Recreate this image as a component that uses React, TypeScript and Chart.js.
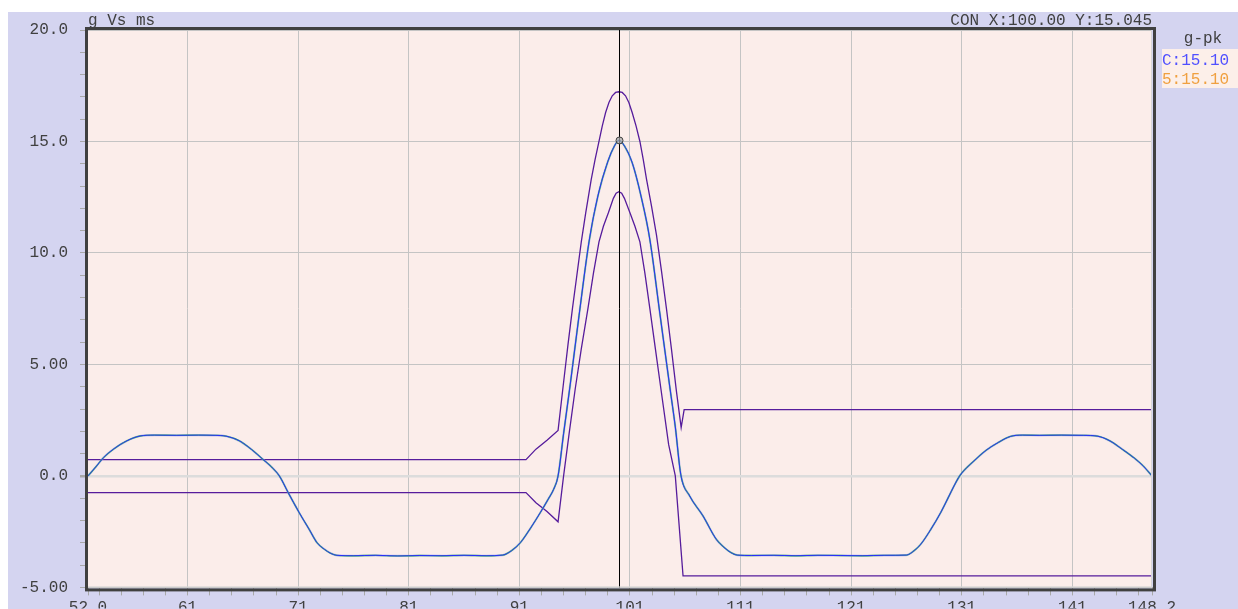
import React, { useEffect, useRef } from "react";
import { Chart, registerables } from "chart.js";

Chart.register(...registerables);

// Main measured pulse (g vs ms)
const mainX = [
  52.0, 52.7, 53.4, 54.3, 55.5, 56.7, 58.0, 60.0, 62.0, 63.5, 64.5, 65.7, 66.8, 67.8, 68.6, 69.3,
  70.1, 71.1, 72.0, 72.7, 73.4, 73.9, 74.5, 76.0, 78.0, 80.0, 82.0, 84.0, 86.0, 88.0, 89.5, 90.3,
  91.1, 92.0, 92.9, 93.6, 94.1, 94.5, 95.0, 95.6, 96.4, 97.3, 98.1, 99.0, 99.6, 100.0, 100.5, 101.2,
  102.0, 102.8, 103.7, 104.6, 105.1, 105.6, 106.4, 107.6, 108.8, 109.5, 110.1, 110.7, 112.0, 114.0,
  116.0, 118.0, 120.0, 122.0, 124.0, 126.0, 126.7, 127.3, 128.2, 129.1, 129.8, 130.3, 130.85, 132.1,
  133.2, 134.3, 135.4, 136.5, 138.0, 140.0, 142.0, 143.3, 144.4, 145.5, 146.6, 147.4, 148.2,
];
const mainY = [
  0.0, 0.4, 0.82, 1.2, 1.57, 1.79, 1.83, 1.82, 1.83, 1.82, 1.78, 1.57, 1.18, 0.75, 0.4, 0.0,
  -0.75, -1.65, -2.4, -2.99, -3.3, -3.46, -3.56, -3.58, -3.56, -3.59, -3.57, -3.58, -3.56, -3.58, -3.55, -3.35,
  -2.99, -2.35, -1.64, -1.05, -0.6, 0.0, 1.9, 4.1, 7.2, 10.5, 12.55, 14.1, 14.8, 15.05, 14.8, 14.05,
  12.55, 10.6, 7.3, 4.0, 2.2, 0.05, -0.9, -1.79, -2.84, -3.2, -3.43, -3.55, -3.57, -3.56,
  -3.58, -3.56, -3.57, -3.58, -3.56, -3.55, -3.35, -3.06, -2.4, -1.64, -0.95, -0.45, 0.03, 0.67,
  1.15, 1.5, 1.77, 1.83, 1.82, 1.83, 1.82, 1.78, 1.57, 1.2, 0.8, 0.45, 0.0,
];

// Upper tolerance envelope
const upperX = [
  52.0, 91.6, 92.5, 93.5, 94.5, 95.0, 95.4, 95.8, 96.2, 96.6, 97.0, 97.5, 97.85, 98.2, 98.5, 98.8,
  99.1, 99.4, 99.7, 100.0, 100.3, 100.6, 100.9, 101.2, 101.55, 101.9, 102.2, 102.5, 102.95, 103.4,
  103.85, 104.3, 104.75, 105.2, 105.63, 105.9, 148.2,
];
const upperY = [
  0.73, 0.73, 1.2, 1.6, 2.04, 4.2, 5.9, 7.5, 9.0, 10.5, 11.8, 13.3, 14.2, 15.0, 15.7, 16.3,
  16.75, 17.05, 17.2, 17.23, 17.2, 17.05, 16.75, 16.3, 15.7, 15.0, 14.2, 13.3, 12.1, 10.8,
  9.2, 7.5, 5.7, 3.8, 2.17, 2.97, 2.97,
];

// Lower tolerance envelope
const lowerX = [
  52.0, 91.6, 92.5, 93.5, 94.5, 95.0, 95.5, 96.05, 96.6, 97.2, 97.7, 98.2, 98.6, 99.05, 99.5, 99.75,
  100.0, 100.25, 100.5, 101.0, 101.45, 101.9, 102.35, 102.8, 103.3, 103.8, 104.5, 105.1, 105.8, 148.2,
];
const lowerY = [
  -0.75, -0.75, -1.2, -1.6, -2.06, 0.0, 1.9, 3.9, 5.7, 7.5, 9.1, 10.5, 11.2, 11.8, 12.45, 12.68,
  12.75, 12.68, 12.45, 11.8, 11.2, 10.5, 9.1, 7.5, 5.7, 3.9, 1.4, 0.0, -4.48, -4.48,
];

// Axes
const X_MIN = 52.0;
const X_MAX = 148.2;
const xMajorTicks = [61, 71, 81, 91, 101, 111, 121, 131, 141];
const xEndLabels: Record<string, string> = { "52": "52.0", "148.2": "148.2" };
const Y_MIN = -5;
const Y_MAX = 20;
const yTickLabels: Record<string, string> = {
  "20": "20.0",
  "15": "15.0",
  "10": "10.0",
  "5": "5.00",
  "0": "0.0",
  "-5": "-5.00",
};

const cursorX = 100.0;
const cursorY = 15.045;
const titleText = "g Vs ms";
const cursorText = "CON X:100.00 Y:15.045";
const legendTitle = "g-pk";
const legendItems = ["C:15.10", "5:15.10"];
const legendColors = ["#5050ff", "#f0a040"];

const FONT_FAMILY = '"Liberation Mono", "Courier New", monospace';
const FONT = "16px " + FONT_FAMILY;
const TEXT_COLOR = "#404040";
const PANEL = "#d4d4f0";
const PLOT_BG = "#fbedea";

const toPts = (xs: number[], ys: number[]) => xs.map((x, i) => ({ x, y: ys[i] }));

const framePlugin = {
  id: "frame",
  beforeDraw(chart: any) {
    const { ctx, width, height, chartArea } = chart;
    ctx.save();
    ctx.fillStyle = "#ffffff";
    ctx.fillRect(0, 0, width, height);
    ctx.fillStyle = PANEL;
    ctx.fillRect(0, 4, width, height - 4);
    ctx.fillStyle = PLOT_BG;
    ctx.fillRect(chartArea.left, chartArea.top, chartArea.right - chartArea.left, chartArea.bottom - chartArea.top);
    ctx.restore();
  },
  afterDatasetsDraw(chart: any) {
    const { ctx, chartArea, scales } = chart;
    const xs = scales.x;
    const ys = scales.y;
    ctx.save();
    const cx = Math.round(xs.getPixelForValue(cursorX)) + 0.5;
    ctx.strokeStyle = "#000000";
    ctx.lineWidth = 1;
    ctx.beginPath();
    ctx.moveTo(cx, chartArea.top);
    ctx.lineTo(cx, chartArea.bottom);
    ctx.stroke();
    const cy = ys.getPixelForValue(cursorY);
    ctx.beginPath();
    ctx.arc(cx, cy, 3.5, 0, Math.PI * 2);
    ctx.fillStyle = "rgba(170,170,170,0.7)";
    ctx.fill();
    ctx.strokeStyle = "#404040";
    ctx.lineWidth = 1;
    ctx.stroke();
    ctx.restore();
  },
  afterDraw(chart: any) {
    const { ctx, chartArea } = chart;
    ctx.save();
    ctx.strokeStyle = "#d6d6d6";
    ctx.lineWidth = 1;
    ctx.beginPath();
    ctx.moveTo(chartArea.left, chartArea.bottom - 0.5);
    ctx.lineTo(chartArea.right, chartArea.bottom - 0.5);
    ctx.moveTo(chartArea.right - 0.5, chartArea.top);
    ctx.lineTo(chartArea.right - 0.5, chartArea.bottom);
    ctx.stroke();
    ctx.strokeStyle = "#404040";
    ctx.lineWidth = 3;
    ctx.strokeRect(chartArea.left - 1.5, chartArea.top - 1.5, chartArea.right - chartArea.left + 4, chartArea.bottom - chartArea.top + 4);
    ctx.font = FONT;
    ctx.fillStyle = TEXT_COLOR;
    ctx.textBaseline = "alphabetic";
    ctx.textAlign = "left";
    ctx.fillText(titleText, chartArea.left, 17);
    ctx.textAlign = "right";
    ctx.fillText(cursorText, chartArea.right, 17);
    ctx.fillStyle = "#fcefe9";
    ctx.fillRect(1154, 41, 84, 39);
    ctx.textAlign = "center";
    ctx.fillStyle = TEXT_COLOR;
    ctx.fillText(legendTitle, 1195, 35);
    ctx.textAlign = "left";
    legendItems.forEach((t, i) => {
      ctx.fillStyle = legendColors[i];
      ctx.fillText(t, 1154, 57 + i * 19);
    });
    ctx.restore();
  },
};

export default function App() {
  const ref = useRef<HTMLCanvasElement>(null);
  useEffect(() => {
    document.documentElement.style.overflow = "hidden";
    document.body.style.overflow = "hidden";
    if (!ref.current) return;
    const main = toPts(mainX, mainY);
    const smooth = { showLine: true, pointRadius: 0, cubicInterpolationMode: "monotone" };
    const straight = { showLine: true, pointRadius: 0, tension: 0 };
    const chart = new Chart(ref.current, {
      type: "scatter",
      data: {
        datasets: [
          { ...smooth, data: main, borderColor: "#2a2aff", borderWidth: 1 },
          { ...smooth, data: main, borderColor: "#40cc40", borderWidth: 1.3 },
          { ...smooth, data: main, borderColor: "rgba(140,140,255,0.5)", borderWidth: 2.2 },
          { ...straight, data: toPts(upperX, upperY), borderColor: "#561c9c", borderWidth: 1.3 },
          { ...straight, data: toPts(lowerX, lowerY), borderColor: "#561c9c", borderWidth: 1.3 },
        ],
      },
      options: {
        responsive: false,
        animation: false,
        devicePixelRatio: 1,
        layout: { padding: { top: 22, right: 86, left: 0, bottom: 0 } },
        plugins: { legend: { display: false }, tooltip: { enabled: false }, title: { display: false } },
        scales: {
          x: {
            type: "linear",
            min: X_MIN,
            max: X_MAX,
            afterBuildTicks: (scale: any) => {
              const vals: number[] = [X_MIN];
              for (let v = 53; v < X_MAX; v += 2) vals.push(v);
              vals.push(X_MAX);
              scale.ticks = vals.map((value) => ({ value }));
            },
            afterFit: (scale: any) => {
              scale.height = 21;
            },
            border: { display: false },
            grid: {
              color: (c: any) => (xMajorTicks.includes(c.tick?.value) ? "#c4c4c4" : "rgba(0,0,0,0)"),
              tickColor: "#a8a8a8",
              tickLength: 8,
              lineWidth: 1,
            },
            ticks: {
              autoSkip: false,
              maxRotation: 0,
              padding: 3,
              color: TEXT_COLOR,
              font: { family: FONT_FAMILY, size: 16 },
              callback: (v: any) => {
                const key = String(Math.round(Number(v) * 10) / 10);
                if (xEndLabels[key]) return xEndLabels[key];
                return xMajorTicks.includes(Number(v)) ? String(v) : "";
              },
            },
          },
          y: {
            type: "linear",
            min: Y_MIN,
            max: Y_MAX,
            afterFit: (scale: any) => {
              scale.width = 80;
            },
            border: { display: false },
            grid: {
              color: (c: any) => {
                const v = c.tick?.value;
                if (v === 0) return "#dcdcdc";
                return v % 5 === 0 ? "#c4c4c4" : "rgba(0,0,0,0)";
              },
              lineWidth: (c: any) => (c.tick?.value === 0 ? 2.5 : 1),
              tickColor: "#a8a8a8",
              tickLength: 8,
            },
            ticks: {
              stepSize: 1,
              autoSkip: false,
              padding: 12,
              color: TEXT_COLOR,
              font: { family: FONT_FAMILY, size: 16 },
              callback: (v: any) => yTickLabels[String(v)] ?? "",
            },
          },
        },
      },
      plugins: [framePlugin],
    } as any);
    return () => chart.destroy();
  }, []);
  return (
    <>
      <div style={{ position: "fixed", left: 8, top: 12, right: 0, bottom: 0, background: PANEL }} />
      <div style={{ position: "fixed", left: 8, top: 8, width: 1230, height: 601 }}>
        <canvas ref={ref} width={1230} height={601} style={{ display: "block" }} />
      </div>
    </>
  );
}
